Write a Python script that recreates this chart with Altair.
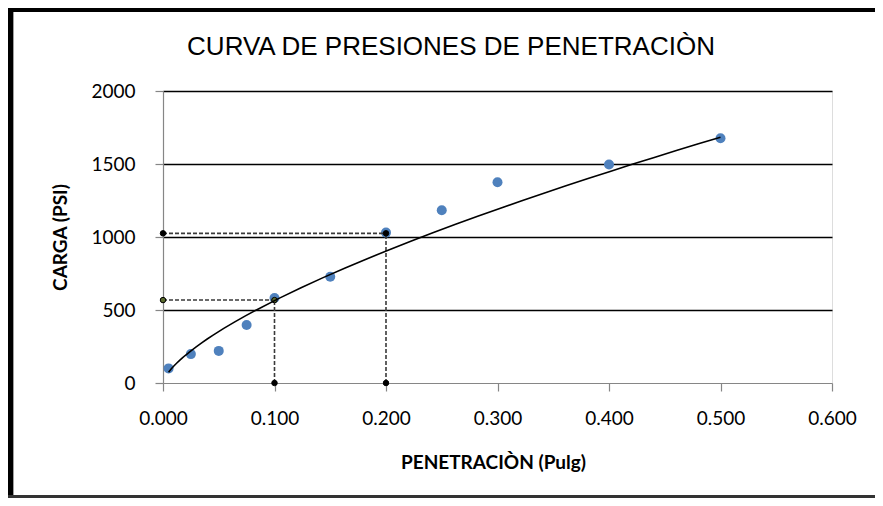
import altair as alt
import pandas as pd

# ---- data ----
penetracion = [0.005, 0.025, 0.05, 0.075, 0.1, 0.15, 0.2, 0.25, 0.3, 0.4, 0.5]
carga = [100, 198, 220, 397, 582, 728, 1030, 1183, 1375, 1497, 1676]

ref_pen = [0.1, 0.2]
ref_carga = [568, 1025]
ref_color = ["#5b6b2e", "#000000"]

x_ticks = [0.0, 0.1, 0.2, 0.3, 0.4, 0.5, 0.6]
y_ticks = [0, 500, 1000, 1500, 2000]

title_text = "CURVA DE PRESIONES DE PENETRACIÒN"
x_title = "PENETRACIÒN (Pulg)"
y_title = "CARGA (PSI)"

# ---- tables ----
df = pd.DataFrame({"pen": penetracion, "carga": carga})

seg_rows = []
dot_rows = []
for xp, yc, col in zip(ref_pen, ref_carga, ref_color):
    seg_rows.append({"pen": 0.0, "pen2": xp, "carga": yc, "carga2": yc})
    seg_rows.append({"pen": xp, "pen2": xp, "carga": 0, "carga2": yc})
    dot_rows.append({"pen": 0.0, "carga": yc, "c": col})
    dot_rows.append({"pen": xp, "carga": yc, "c": col})
    dot_rows.append({"pen": xp, "carga": 0, "c": "#000000"})
seg = pd.DataFrame(seg_rows)
dots = pd.DataFrame(dot_rows)
one = pd.DataFrame({"k": [0]})

FONT = "Lato"
GRAY = "#868686"

x_enc = alt.X(
    "pen:Q",
    scale=alt.Scale(domain=[0, 0.6], nice=False, zero=False),
    axis=alt.Axis(
        values=x_ticks, format=".3f", title=x_title, grid=False, labelFlush=False,
        domainColor=GRAY, domainWidth=1.2, tickColor=GRAY, tickSize=8, tickWidth=1.2,
        labelFont=FONT, labelFontSize=19, labelColor="black", labelPadding=18,
        titleFont=FONT, titleFontSize=19, titleFontWeight="bold", titleColor="black",
        titleX=330, titleY=79, titleBaseline="middle", titleAlign="center",
    ),
)
y_enc = alt.Y(
    "carga:Q",
    scale=alt.Scale(domain=[0, 2000], nice=False),
    axis=alt.Axis(
        values=y_ticks, format="d", title=y_title, labelFlush=False,
        grid=True, gridWidth=1.6,
        gridColor=alt.condition("datum.value === 0", alt.value("transparent"), alt.value("black")),
        domainColor=GRAY, domainWidth=1.2, tickColor=GRAY, tickSize=8, tickWidth=1.2,
        labelFont=FONT, labelFontSize=19, labelColor="black", labelPadding=20,
        titleFont=FONT, titleFontSize=19, titleFontWeight="bold", titleColor="black",
        titleX=-103, titleY=146, titleAngle=270, titleBaseline="middle", titleAlign="center",
    ),
)

points = alt.Chart(df).mark_circle(size=100, color="#4F81BD", opacity=1).encode(x=x_enc, y=y_enc)

guides = alt.Chart(seg).mark_rule(color="#3a3a3a", strokeDash=[4, 2], strokeWidth=1.6).encode(
    x="pen:Q", x2="pen2:Q", y="carga:Q", y2="carga2:Q"
)

guide_dots = alt.Chart(dots).mark_point(
    shape="circle", filled=True, size=30, stroke="black", strokeWidth=1, opacity=1
).encode(x="pen:Q", y="carga:Q", fill=alt.Fill("c:N", scale=None))

trend = alt.Chart(df).transform_regression(
    "pen", "carga", method="pow", extent=[0.005, 0.5]
).mark_line(color="black", strokeWidth=1.6).encode(x="pen:Q", y="carga:Q")

title = alt.Chart(one).mark_text(
    font="Liberation Sans", fontSize=26, color="black", align="center", baseline="middle"
).encode(x=alt.value(288), y=alt.value(-44), text=alt.value(title_text))

frame_left = alt.Chart(one).mark_rule(color="black", strokeWidth=5).encode(
    x=alt.value(-152.5), y=alt.value(-83), y2=alt.value(407)
)
frame_left_in = alt.Chart(one).mark_rule(color="#a0a0a0", strokeWidth=1).encode(
    x=alt.value(-149.5), y=alt.value(-79), y2=alt.value(404)
)
frame_top = alt.Chart(one).mark_rule(color="black", strokeWidth=4).encode(
    x=alt.value(-155), x2=alt.value(712), y=alt.value(-81)
)
frame_bottom = alt.Chart(one).mark_rule(color="#333333", strokeWidth=3).encode(
    x=alt.value(-155), x2=alt.value(712), y=alt.value(405.5)
)

chart = alt.layer(
    points, guides, guide_dots, trend, title,
    frame_left, frame_left_in, frame_top, frame_bottom,
).properties(
    width=669, height=292,
    padding={"left": 155, "top": 83, "right": 43, "bottom": 115},
    autosize=alt.AutoSizeParams(type="none"),
).configure_view(strokeWidth=0).configure(background="white")

chart.save("out.html", embed_options={"renderer": "svg", "actions": False})
